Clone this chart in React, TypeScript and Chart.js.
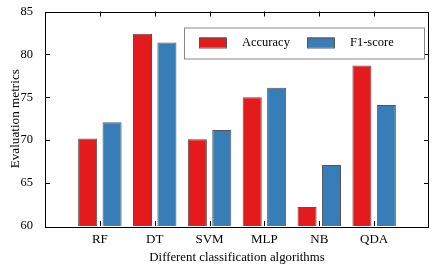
import React, { useEffect, useRef } from "react";
import { Chart, registerables } from "chart.js";

Chart.register(...registerables);

const categories = ["RF", "DT", "SVM", "MLP", "NB", "QDA"];
const accuracy = [70.2, 82.4, 70.1, 75.0, 62.2, 78.7];
const f1Score = [72.1, 81.4, 71.2, 76.1, 67.1, 74.1];
const yMin = 60;
const yMax = 85;
const yStep = 5;
const seriesNames = ["Accuracy", "F1-score"];
const seriesColors = ["#e41a1c", "#377eb8"];

const FONT = '"Liberation Serif", "Times New Roman", serif';

const framePlugin = {
  id: "frameTicks",
  afterDraw(chart: any) {
    const { ctx, chartArea, scales } = chart;
    const { left, right, top, bottom } = chartArea;
    ctx.save();
    ctx.strokeStyle = "#000";
    ctx.lineWidth = 1;
    const L = 5;
    ctx.beginPath();
    for (let i = 1; i <= categories.length; i++) {
      const x = Math.round(scales.x.getPixelForValue(i)) + 0.5;
      ctx.moveTo(x, top);
      ctx.lineTo(x, top + L);
      ctx.moveTo(x, bottom);
      ctx.lineTo(x, bottom - L);
    }
    for (let v = yMin + yStep; v < yMax; v += yStep) {
      const y = Math.round(scales.y.getPixelForValue(v)) + 0.5;
      ctx.moveTo(left, y);
      ctx.lineTo(left + L, y);
      ctx.moveTo(right, y);
      ctx.lineTo(right - L, y);
    }
    ctx.stroke();
    ctx.strokeRect(Math.round(left) + 0.5, Math.round(top) + 0.5, Math.round(right - left) - 1, Math.round(bottom - top));

    // legend
    const bx = left + 139;
    const by = top + 16;
    const bw = 240;
    const bh = 31;
    ctx.fillStyle = "#fff";
    ctx.fillRect(bx, by, bw, bh);
    ctx.strokeStyle = "#888";
    ctx.strokeRect(bx + 0.5, by + 0.5, bw, bh);
    const items = chart.data.datasets;
    const offsets = [15, 123];
    ctx.font = `12.5px ${FONT}`;
    ctx.textBaseline = "middle";
    items.forEach((ds: any, i: number) => {
      const sx = bx + offsets[i];
      const sy = by + 10;
      ctx.fillStyle = ds.backgroundColor;
      ctx.fillRect(sx, sy, 27, 10);
      ctx.strokeStyle = "#555";
      ctx.strokeRect(sx + 0.5, sy + 0.5, 27, 10);
      ctx.fillStyle = "#000";
      ctx.fillText(ds.label, sx + 43, sy + 5.5);
    });
    ctx.restore();
  },
};

export default function App() {
  const ref = useRef<HTMLCanvasElement>(null);
  useEffect(() => {
    if (!ref.current) return;
    const labels = ["", ...categories, ""];
    const chart = new Chart(ref.current, {
      type: "bar",
      data: {
        labels,
        datasets: [accuracy, f1Score].map((vals, i) => ({
          label: seriesNames[i],
          data: [null, ...vals, null],
          backgroundColor: seriesColors[i],
          borderColor: "#555",
          borderWidth: 1,
          categoryPercentage: 0.89,
          barPercentage: 0.78,
        })),
      },
      options: {
        animation: false,
        responsive: false,
        devicePixelRatio: 1,
        layout: { padding: { top: 5, right: 7, left: 0, bottom: 0 } },
        plugins: { legend: { display: false }, tooltip: { enabled: false } },
        scales: {
          x: {
            type: "category",
            offset: false,
            grid: { display: false },
            border: { display: false },
            ticks: {
              autoSkip: false,
              maxRotation: 0,
              color: "#000",
              padding: -2,
              font: { family: FONT, size: 13 },
            },
            title: {
              display: true,
              text: "Different classification algorithms",
              color: "#000",
              font: { family: FONT, size: 12.8 },
              padding: { top: 0, bottom: 8 },
            },
            afterFit: (s: any) => {
              s.height = 47;
            },
          },
          y: {
            min: yMin,
            max: yMax,
            grid: { display: false },
            border: { display: false },
            ticks: {
              stepSize: yStep,
              color: "#000",
              padding: 4,
              font: { family: FONT, size: 12.5 },
            },
            title: {
              display: true,
              text: "Evaluation metrics",
              color: "#000",
              font: { family: FONT, size: 13.2 },
              padding: { top: 8, bottom: 0 },
            },
            afterFit: (s: any) => {
              s.width = 45;
            },
          },
        },
      },
      plugins: [framePlugin],
    } as any);
    return () => chart.destroy();
  }, []);
  return (
    <div style={{ position: "fixed", left: 0, top: 0, width: 436, height: 273, background: "#fff" }}>
      <canvas ref={ref} width={436} height={273} />
    </div>
  );
}
